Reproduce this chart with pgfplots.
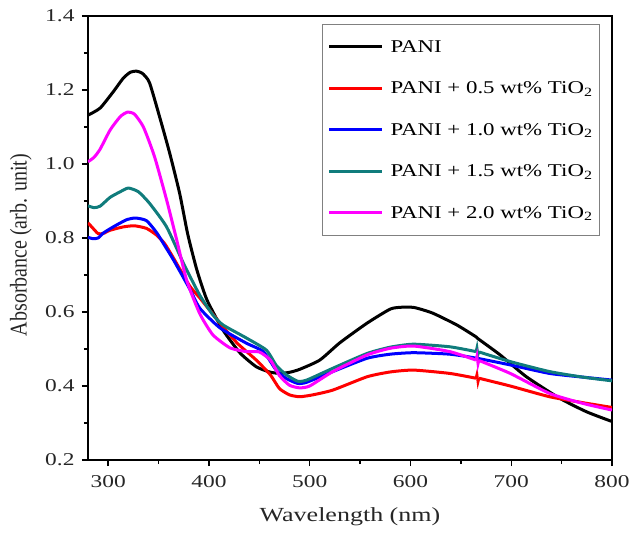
\documentclass[border=0pt]{standalone}
\usepackage{fontspec}
\setmainfont{Liberation Serif}
\usepackage{graphicx}
\usepackage{pgfplots}
\pgfplotsset{compat=1.18}
\definecolor{tealc}{RGB}{16,124,124}
\definecolor{magc}{RGB}{255,0,255}
\definecolor{redc}{RGB}{255,0,0}
\definecolor{bluec}{RGB}{0,0,255}
\newcommand{\hs}[1]{\scalebox{1.3}[1]{#1}}
\newcommand{\ls}[1]{\scalebox{1.27}[1]{#1}}
\pgfplotsset{cl/.style={line width=3pt, line join=round, smooth, tension=0.35}}
\begin{document}
\begin{tikzpicture}
\begin{axis}[
  scale only axis, width=524pt, height=444pt,
  xmin=280, xmax=800, ymin=0.2, ymax=1.4,
  xtick={300,400,...,800}, minor xtick={350,450,...,750},
  ytick={0.2,0.4,...,1.41}, minor ytick={0.3,0.5,...,1.31},
  /pgf/number format/assume math mode=true,
  xticklabel={\hs{\pgfmathprintnumber{\tick}}},
  yticklabel={\hs{\pgfmathprintnumber[fixed,fixed zerofill,precision=1]{\tick}}},
  tick label style={font=\fontsize{18}{18}\selectfont, text=black!85},
  xticklabel style={yshift=-6pt},
  yticklabel style={xshift=-4pt},
  xtick pos=bottom, ytick pos=left, tick align=outside,
  major tick length=6pt, minor tick length=4pt,
  axis line style={line width=1.7pt}, every tick/.style={line width=1.4pt, black},
  xlabel={\hs{Wavelength (nm)}}, ylabel={\scalebox{1}[1.2]{Absorbance (arb. unit)}},
  every axis x label/.style={at={(axis description cs:0.5,-0.128)}, anchor=center, font=\fontsize{20}{20}\selectfont, text=black!85},
  every axis y label/.style={at={(axis description cs:-0.128,0.484)}, rotate=90, anchor=center, font=\fontsize{20}{20}\selectfont, text=black!85},
  legend style={at={(axis description cs:0.977,0.982)}, anchor=north east, draw=gray, line width=0.6pt,
    font=\fontsize{18}{18}\selectfont, row sep=24pt, inner xsep=5pt, inner ysep=14pt},
  legend cell align=left,
  legend image code/.code={\draw[#1, line width=3pt] (0pt,0pt) -- (53pt,0pt); \path (58pt,0pt);},
]
\addplot[black, cl] coordinates {(280,1.132) (292,1.151) (305,1.195) (315,1.232) (322,1.248) (328,1.251) (334,1.245) (341,1.22) (351,1.128) (361,1.03) (371,0.92) (379,0.81) (388,0.714) (398,0.633) (414,0.551) (431,0.489) (447,0.452) (460,0.438) (470,0.434) (480,0.437) (490,0.445) (510,0.47) (530,0.517) (557,0.57) (580,0.608) (592,0.613) (604,0.612) (622,0.597) (646,0.565) (665,0.533) (667,0.528) (689,0.484) (715,0.425) (748,0.367) (775,0.33) (800,0.304)};
\addlegendentry{\ls{PANI}}
\addplot[redc, cl] coordinates {(280,0.841) (285,0.826) (290,0.812) (295,0.812) (302,0.821) (315,0.83) (326,0.833) (338,0.826) (348,0.808) (356,0.785) (365,0.745) (381,0.67) (391,0.638) (411,0.57) (428,0.516) (447,0.47) (461,0.43) (470,0.393) (480,0.376) (490,0.371) (503,0.376) (523,0.389) (557,0.425) (580,0.438) (603,0.443) (639,0.434) (665,0.421)};
\addplot[redc, line width=2.6pt, forget plot] coordinates {(665,0.421) (666,0.432) (667,0.41) (668,0.421)};
\addplot[redc, cl, forget plot] coordinates {(668,0.421) (699,0.40) (738,0.371) (771,0.355) (800,0.342)};
\addlegendentry{\ls{PANI + 0.5 wt\% TiO\textsubscript{2}}}
\addplot[bluec, cl] coordinates {(280,0.802) (285,0.798) (290,0.80) (295,0.813) (305,0.83) (318,0.849) (327,0.854) (338,0.847) (348,0.815) (356,0.78) (365,0.74) (381,0.662) (391,0.61) (411,0.557) (437,0.516) (454,0.493) (467,0.442) (477,0.42) (488,0.407) (497,0.41) (523,0.439) (557,0.475) (580,0.486) (603,0.49) (639,0.486) (666,0.475) (699,0.457) (738,0.434) (771,0.424) (800,0.416)};
\addlegendentry{\ls{PANI + 1.0 wt\% TiO\textsubscript{2}}}
\addplot[tealc, cl] coordinates {(280,0.887) (286,0.882) (292,0.886) (302,0.91) (312,0.925) (320,0.935) (330,0.925) (341,0.894) (358,0.83) (375,0.73) (391,0.645) (404,0.592) (414,0.565) (437,0.53) (457,0.497) (467,0.455) (477,0.43) (488,0.413) (497,0.416) (523,0.448) (557,0.488) (580,0.505) (603,0.513) (639,0.506) (665,0.493)};
\addplot[tealc, line width=2.6pt, forget plot] coordinates {(665,0.493) (666,0.505) (667,0.484) (668,0.492)};
\addplot[tealc, cl, forget plot] coordinates {(668,0.492) (699,0.466) (738,0.439) (771,0.424) (800,0.414)};
\addlegendentry{\ls{PANI + 1.5 wt\% TiO\textsubscript{2}}}
\addplot[magc, cl] coordinates {(280,1.006) (286,1.018) (292,1.04) (302,1.092) (312,1.128) (319,1.14) (326,1.135) (335,1.10) (346,1.02) (358,0.903) (368,0.795) (378,0.685) (391,0.595) (404,0.538) (421,0.503) (437,0.493) (450,0.492) (461,0.47) (470,0.428) (480,0.402) (490,0.395) (500,0.40) (523,0.439) (557,0.484) (580,0.502) (603,0.508) (639,0.493) (665,0.47)};
\addplot[magc, line width=2.6pt, forget plot] coordinates {(665,0.47) (666,0.482) (667,0.458) (668,0.469)};
\addplot[magc, cl, forget plot] coordinates {(668,0.469) (699,0.434) (738,0.38) (771,0.353) (800,0.335)};
\addlegendentry{\ls{PANI + 2.0 wt\% TiO\textsubscript{2}}}
\end{axis}
\pgfresetboundingbox
\path ([shift={(-88pt,-75pt)}]current axis.south west) rectangle ([shift={(19pt,16pt)}]current axis.north east);
\end{tikzpicture}
\end{document}
